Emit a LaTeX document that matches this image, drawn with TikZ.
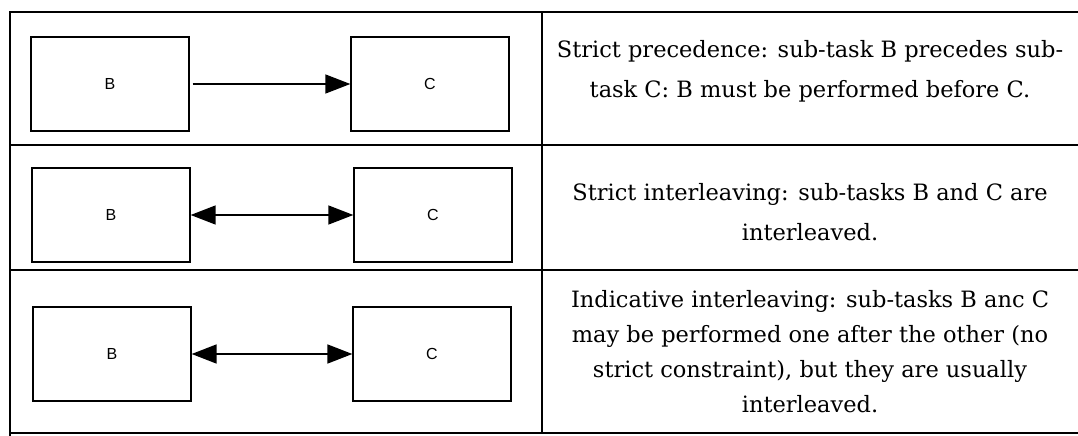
\documentclass[tikz,border=0pt]{standalone}
\usepackage{fontspec}
\setmainfont{DejaVu Serif}
\newfontfamily\boxfont{Liberation Sans}
\usetikzlibrary{arrows.meta, positioning}

\begin{document}
\begin{tikzpicture}[x=1pt, y=-1pt,
    taskbox/.style={draw, line width=1.3pt, minimum width=158pt, minimum height=94pt,
        font=\boxfont\fontsize{16}{18}\selectfont},
    desc/.style={align=center, font=\fontsize{22.5}{40}\selectfont},
    precede/.style={line width=1.4pt, -{Triangle[length=25pt, width=19pt]}},
    interleave/.style={line width=1.4pt, {Triangle[length=25pt, width=19pt]}-{Triangle[length=25pt, width=19pt]}}]
    \useasboundingbox (0,0) rectangle (1078,436);

    % table rules
    \draw[line width=2.5pt] (1078,12) -- (10,12) -- (10,436);
    \draw[line width=2pt] (10,433) -- (1078,433);
    \foreach \y in {145,270}
        \draw[line width=1.8pt] (10,\y) -- (1078,\y);
    \draw[line width=1.5pt] (542,12) -- (542,433);

    % sub-task boxes
    \node[taskbox] (b1) at (110,84) {B};
    \node[taskbox] (c1) at (430,84) {C};
    \node[taskbox] (b2) at (111,215) {B};
    \node[taskbox] (c2) at (433,215) {C};
    \node[taskbox] (b3) at (112,354) {B};
    \node[taskbox] (c3) at (432,354) {C};

    \draw[precede] ([xshift=3pt]b1.east) -- (c1.west);
    \draw[interleave] (b2.east) -- (c2.west);
    \draw[interleave, line width=1.7pt] (b3.east) -- (c3.west);

    % descriptions
    \node[desc] (d1) at (810,71) {Strict precedence: sub-task B precedes sub-\\task C: B must be performed before C.};
    \node[desc] (d2) at (810,212) {Strict interleaving: sub-tasks B and C are\\interleaved.};
    \node[desc, font=\fontsize{22.5}{35}\selectfont] (d3) at (810,352)
        {Indicative interleaving: sub-tasks B anc C\\may be performed one after the other (no\\strict constraint), but they are usually\\interleaved.};
\end{tikzpicture}
\end{document}
